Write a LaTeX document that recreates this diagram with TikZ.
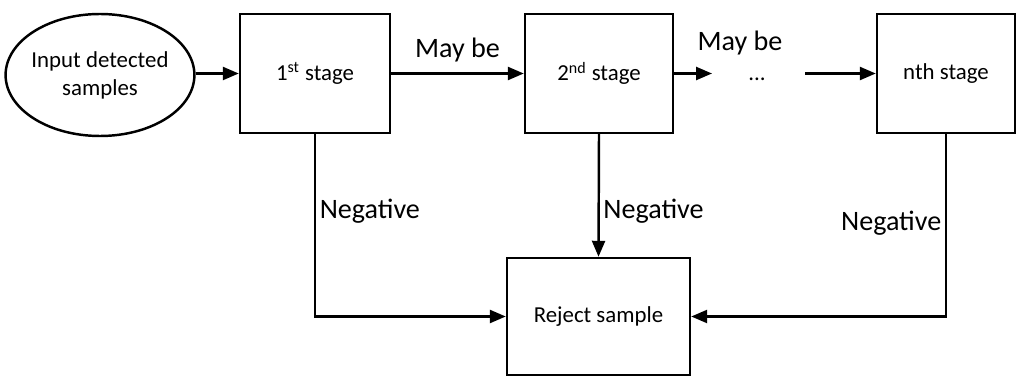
\documentclass[tikz,border=0pt]{standalone}
\usepackage{fontspec}
\setmainfont{Carlito}
\usepackage{tikz}
\usetikzlibrary{shapes.geometric, arrows.meta, positioning, calc}
\tikzset{
  stage/.style = {rectangle, draw = black, line width = 1.4pt, minimum width = 3cm, minimum height = 2.38cm, text centered, font = \fontsize{13}{15}\selectfont},
  flow/.style = {line width = 1.4pt, -{Triangle[length = 3.2mm, width = 2.6mm]}},
  lbl/.style = {font = \fontsize{16}{18}\selectfont, inner sep = 2pt}
}

\begin{document}
\begin{tikzpicture}
\useasboundingbox (0,0) rectangle (20.5,7.56);

\node (in) [ellipse, draw = black, line width = 1.4pt, inner xsep = -1pt, inner ysep = 0.3cm, minimum width = 3.7cm, minimum height = 2.44cm, align = center, font = \fontsize{13}{16}\selectfont] at (2.0,6.06) {Input detected\\samples} ;

\node (s1) [stage] at (6.3,6.09) {1\textsuperscript{st} stage} ;
\node (s2) [stage, minimum width = 2.96cm] at (11.98,6.09) {2\textsuperscript{nd} stage} ;
\node (sn) [stage, minimum width = 2.76cm] at (18.92,6.09) {nth stage} ;
\node (rej) [stage, minimum width = 3.66cm, minimum height = 2.34cm] at (11.97,1.23) {Reject sample} ;

\node (dots) [font = \fontsize{13}{15}\selectfont] at (15.14,5.98) {...} ;
\coordinate (d1) at (14.24,6.09) ;
\coordinate (d2) at (16.1,6.09) ;

\draw[flow] (in.east |- s1) -- (s1) ;
\draw[flow] (s1) -- node[lbl, above = 4pt] {May be} (s2) ;
\draw[flow] (s2) -- (d1) ;
\node[lbl] at (14.8,6.7) {May be} ;
\draw[flow] (d2) -- (sn) ;

\draw[flow] (s1.south) |- node[lbl, pos = 0.21, right] {Negative} (rej.west) ;
\draw[flow] (s2.south) -- node[lbl, pos = 0.63, right] {Negative} (rej.north) ;
\draw[flow] (sn.south) |- node[lbl, pos = 0.245, left] {Negative} (rej.east) ;
\end{tikzpicture}
\end{document}
